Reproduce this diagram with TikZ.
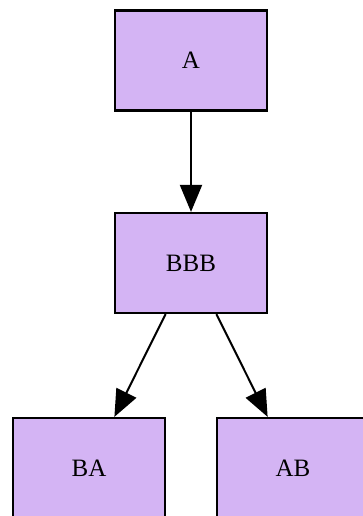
\documentclass[tikz,border=0pt]{standalone}
\usepackage{fontspec}
\setmainfont{Liberation Serif}
\usetikzlibrary{arrows.meta}

\definecolor{boxfill}{RGB}{212,180,244}

\tikzset{
  box/.style={draw=black, fill=boxfill, line width=2.2pt,
    minimum width=152pt, minimum height=100pt, inner sep=0pt,
    font=\fontsize{25}{29}\selectfont},
  link/.style={line width=2pt, -{Triangle[length=27pt,width=22pt]}}
}

\begin{document}
\begin{tikzpicture}[x=1pt,y=-1pt]
  \useasboundingbox (0,0) rectangle (362,516);
  \node[box] (a) at (191,60.5) {A};
  \node[box] (bbb) at (191,263) {BBB};
  \node[box] (ba) at (89,468) {BA};
  \node[box] (ab) at (293,468) {AB};
  \draw[link] (a) -- (bbb);
  \draw[link] (bbb) -- (ba);
  \draw[link] (bbb) -- (ab);
\end{tikzpicture}
\end{document}
